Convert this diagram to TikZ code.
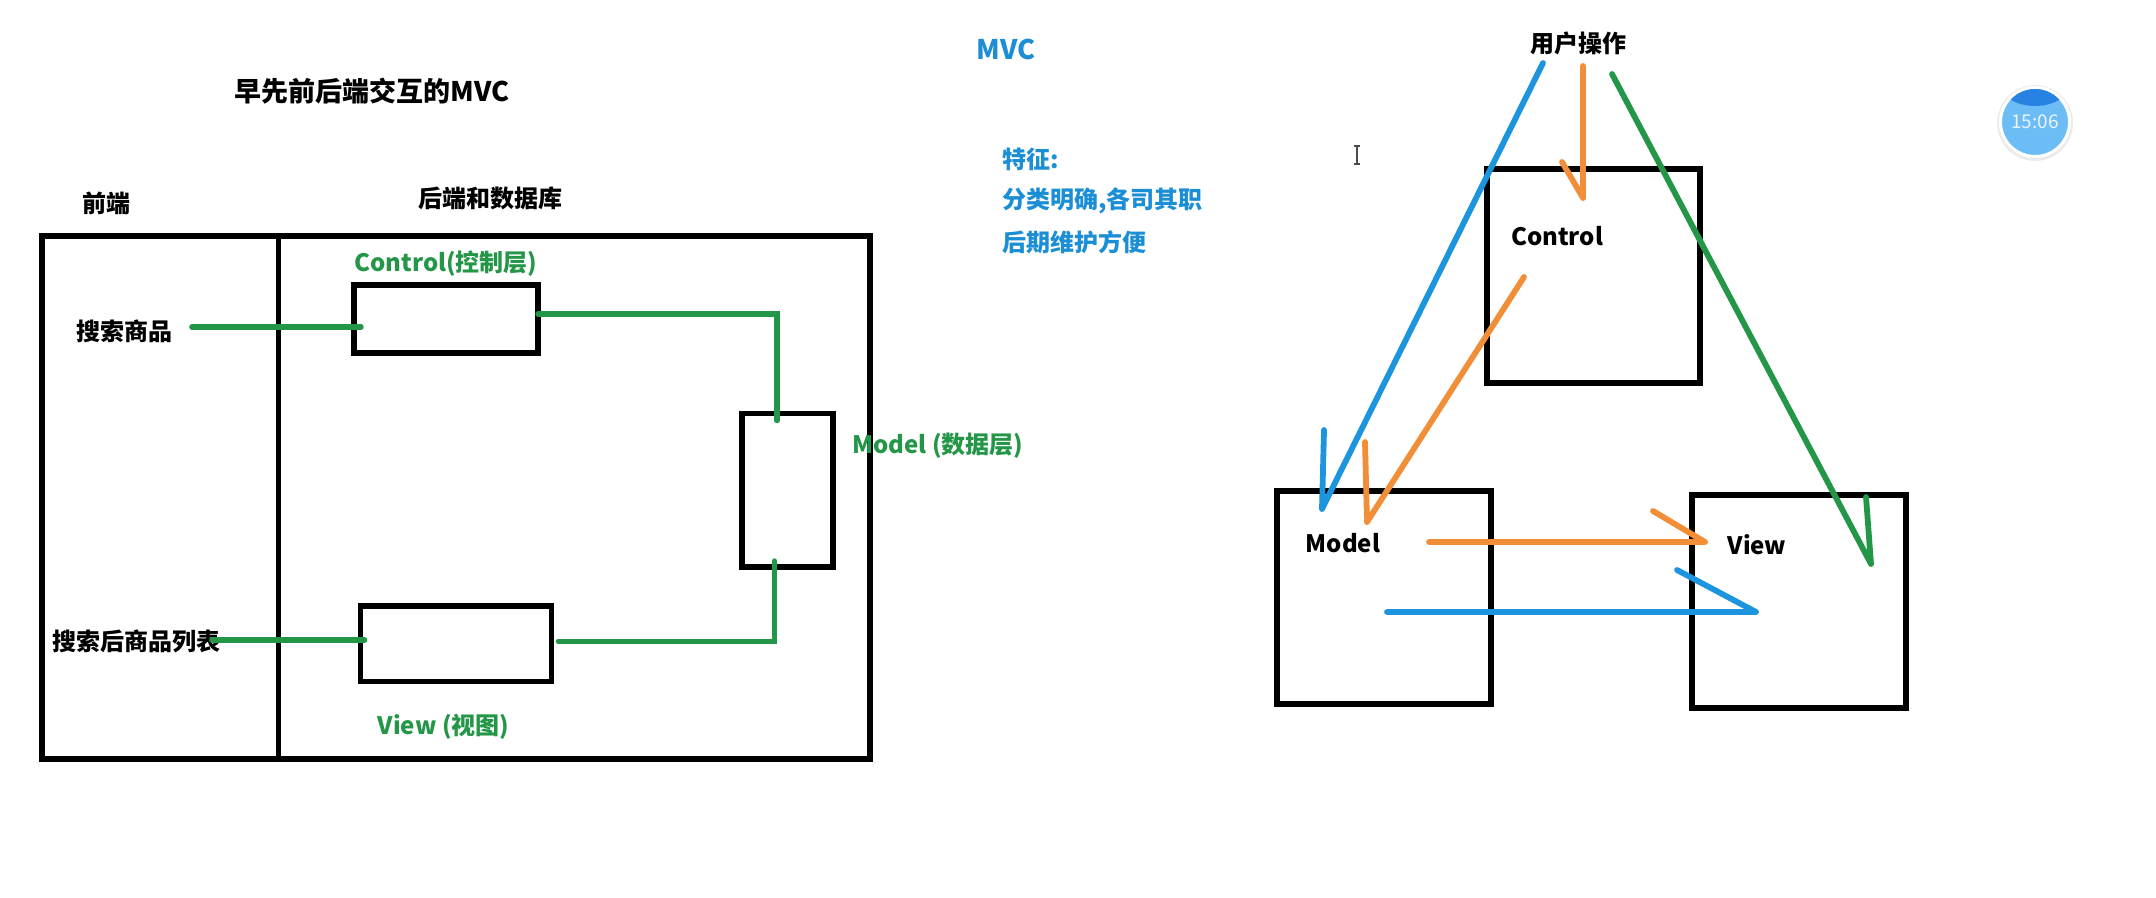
\documentclass[tikz,border=0pt]{standalone}
\usepackage{fontspec}
\setmainfont{Noto Sans CJK SC}
\usetikzlibrary{calc}
\definecolor{pgreen}{RGB}{36,150,72}
\definecolor{pblue}{RGB}{28,148,222}
\definecolor{porange}{RGB}{242,142,56}
\definecolor{tblue}{RGB}{28,142,214}
\definecolor{clockblue}{RGB}{108,188,246}
\definecolor{clockdark}{RGB}{40,130,225}
\begin{document}
\begin{tikzpicture}[x=0.5pt,y=-0.5pt,
  frame/.style={draw=black,line width=2.8pt,inner sep=0pt,outer sep=0pt},
  bigframe/.style={draw=black,line width=3pt,inner sep=0pt,outer sep=0pt},
  lbl/.style={inner sep=0pt,font=\bfseries\fontsize{12}{14}\selectfont,text=black},
  glbl/.style={lbl,text=pgreen},
  blbl/.style={lbl,text=tblue},
  edge/.style={draw=black,line width=2.8pt},
  gline/.style={draw=pgreen,line width=2.7pt,line cap=round},
  stroke/.style={line width=2.9pt,line cap=round,line join=round}]
\useasboundingbox (0,0) rectangle (2156,898);

% ---------- left diagram ----------
\node[lbl,font=\bfseries\fontsize{13.5}{16}\selectfont] (title) at (372,91) {早先前后端交互的MVC};
\node[lbl] (fe) at (106,203) {前端};
\node[lbl] (be) at (490,198) {后端和数据库};
\node[frame,minimum width=414pt,minimum height=261.5pt] (outer) at (456,497.5) {};
\coordinate (dtop) at (278.5,236);
\coordinate (dbot) at (278.5,759);
\draw[edge] (dtop) -- (dbot);

\node[glbl] (ctl) at (446,263.5) {Control(控制层)};
\node[frame,minimum width=92pt,minimum height=34pt] (cbox) at (446,319) {};
\node[frame,minimum width=45.5pt,minimum height=76.75pt] (mbox) at (787.5,490.25) {};
\node[frame,minimum width=95.4pt,minimum height=37.8pt] (vbox) at (456,643.8) {};
\node[glbl,anchor=west] (mlbl) at (852,445.6) {Model (数据层)};
\node[glbl] (vlbl) at (443.5,727) {View (视图)};
\node[lbl] (s1) at (124.5,331) {搜索商品};
\node[lbl] (s2) at (136.5,641.5) {搜索后商品列表};

\draw[gline] ($(s1.east)+(19,-4)$) -- ($(cbox.west)+(7,8)$);
\draw[gline] ($(cbox.east)+(0,-5)$) -| ($(mbox.north)+(-10.5,7)$);
\draw[gline] ($(mbox.south)+(-13,-6)$) |- ($(vbox.east)+(7,-2.5)$);
\draw[gline] ($(s2.east)+(-9,-1.5)$) -- ($(vbox.west)+(4,-3.8)$);

% ---------- middle text ----------
\node[blbl,font=\bfseries\fontsize{13.5}{16}\selectfont] (mvc) at (1006,49.5) {MVC};
\node[blbl,anchor=west] (f1) at (1002,159.5) {特征:};
\node[blbl,anchor=west] (f2) at (1002,201) {分类明确,各司其职};
\node[blbl,anchor=west] (f3) at (1002,242) {后期维护方便};

% cursor
\draw[black!70,line width=0.6pt] (1357,146) -- (1357,164)
  (1354,146) -- (1360,146) (1354,164) -- (1360,164);

% ---------- right diagram ----------
\node[lbl] (user) at (1578,43) {用户操作};
\node[bigframe,minimum width=106.7pt,minimum height=106.8pt] (rc) at (1593.3,275.8) {};
\node[bigframe,minimum width=107pt,minimum height=106.5pt] (rm) at (1384,597.5) {};
\node[bigframe,minimum width=106.75pt,minimum height=106.5pt] (rv) at (1798.75,601.5) {};
\node[lbl] (rcl) at (1557,236) {Control};
\node[lbl] (rml) at (1343,543) {Model};
\node[lbl] (rvl) at (1757,545) {View};

\coordinate (b1s) at (1543,63);  \coordinate (b1t) at (1322,509); \coordinate (b1h) at (1324,430);
\coordinate (o1s) at (1583,66);  \coordinate (o1t) at (1583,198); \coordinate (o1h) at (1562,162);
\coordinate (g1s) at (1612,74);  \coordinate (g1t) at (1871,564); \coordinate (g1h) at (1866,497);
\coordinate (o2s) at (1524,277); \coordinate (o2t) at (1367,522); \coordinate (o2h) at (1365,442);
\coordinate (o3s) at (1429,542); \coordinate (o3t) at (1705,542); \coordinate (o3h) at (1653,511);
\coordinate (b2s) at (1387,612); \coordinate (b2t) at (1756,612); \coordinate (b2h) at (1677,570);

\draw[stroke,pblue] (b1s) -- (b1t) -- (b1h);
\draw[stroke,porange] (o1s) -- (o1t) -- (o1h);
\draw[stroke,pgreen] (g1s) -- (g1t) -- (g1h);
\draw[stroke,porange] (o2s) -- (o2t) -- (o2h);
\draw[stroke,porange] (o3s) -- (o3t) -- (o3h);
\draw[stroke,pblue] (b2s) -- (b2t) -- (b2h);

% ---------- clock badge ----------
\fill[black!8] (2035,123) circle (19pt);
\node[circle,fill=clockblue,draw=white,line width=1.5pt,minimum size=34.5pt,inner sep=0pt] (clock) at (2035,122) {};
\begin{scope}
  \clip (2035,122) circle (16.5pt);
  \fill[clockdark] (2035,82) ellipse (18pt and 12pt);
\end{scope}
\node[inner sep=0pt,font=\fontsize{9.5}{11}\selectfont,text=white!85!clockblue] (ctime) at (clock.center) {15:06};
\end{tikzpicture}
\end{document}
